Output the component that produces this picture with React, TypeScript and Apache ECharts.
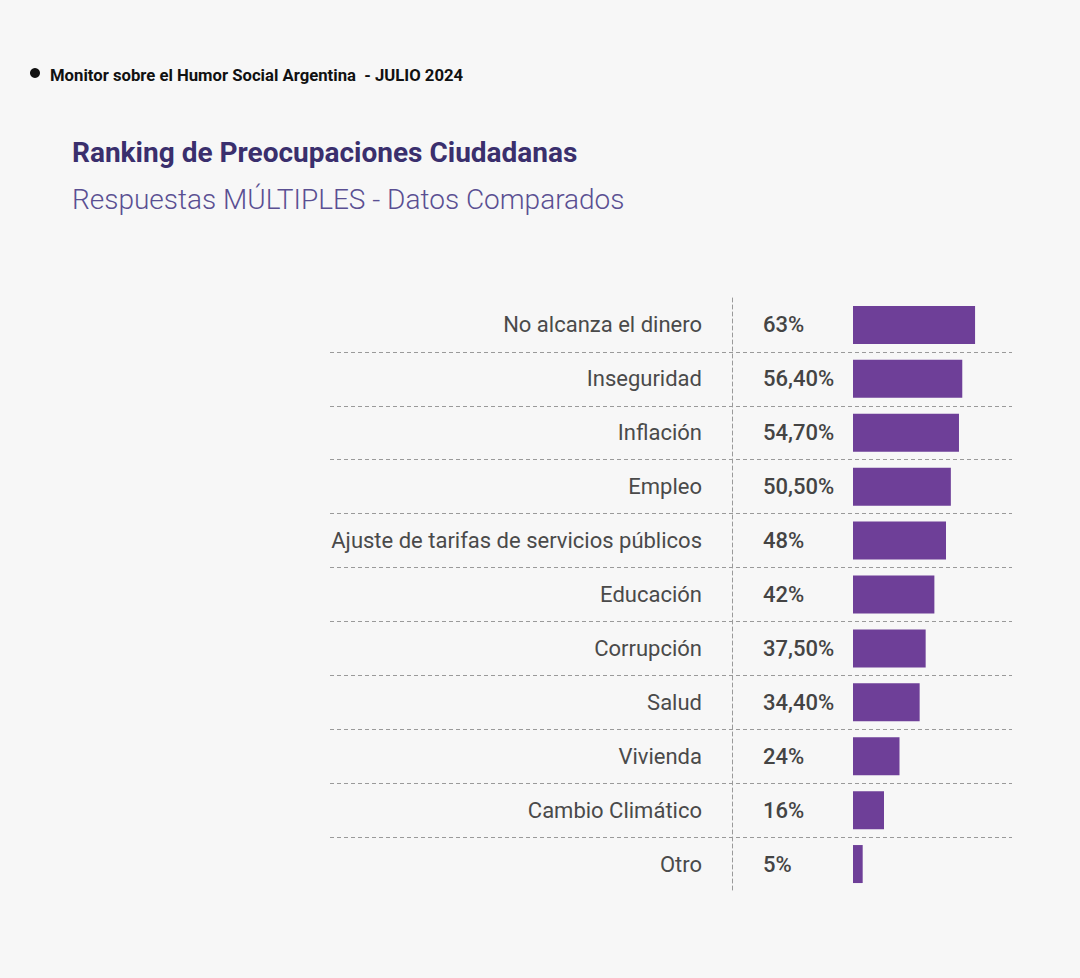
import React, { useEffect, useRef } from "react";
import * as echarts from "echarts";

const headerText = "Monitor sobre el Humor Social Argentina  - JULIO 2024";
const titleText = "Ranking de Preocupaciones Ciudadanas";
const subtitleText = "Respuestas MÚLTIPLES - Datos Comparados";

const categories = [
  "No alcanza el dinero",
  "Inseguridad",
  "Inflación",
  "Empleo",
  "Ajuste de tarifas de servicios públicos",
  "Educación",
  "Corrupción",
  "Salud",
  "Vivienda",
  "Cambio Climático",
  "Otro",
];
const values = [63, 56.4, 54.7, 50.5, 48, 42, 37.5, 34.4, 24, 16, 5];
const valueLabels = ["63%", "56,40%", "54,70%", "50,50%", "48%", "42%", "37,50%", "34,40%", "24%", "16%", "5%"];

const FONT = "Roboto, 'Noto Sans', sans-serif";

export default function App() {
  const ref = useRef<HTMLDivElement>(null);
  useEffect(() => {
    if (!ref.current) return;
    const chart = echarts.init(ref.current, undefined, { renderer: "svg" });
    const option: any = {
      animation: false,
      backgroundColor: "#f7f7f7",
      textStyle: { fontFamily: FONT },
      title: [
        {
          text: headerText,
          left: 45,
          top: 62,
          textStyle: { fontSize: 16.7, fontWeight: "bold", color: "#111", fontFamily: FONT },
        },
        {
          text: titleText,
          left: 67,
          top: 133,
          textStyle: { fontSize: 28, fontWeight: "bold", color: "#3a2f6d", fontFamily: FONT },
        },
        {
          text: subtitleText,
          left: 67,
          top: 180,
          textStyle: { fontSize: 28, fontWeight: 300, color: "#5a4f92", fontFamily: FONT },
        },
      ],
      graphic: [
        { type: "circle", shape: { cx: 35, cy: 73, r: 5 }, style: { fill: "#111" } },
      ],
      grid: [
        { left: 330, right: 68, top: 298, height: 593, containLabel: false },
        { left: 853, width: 155, top: 298, height: 593, containLabel: false },
      ],
      xAxis: [
        { type: "value", gridIndex: 0, min: 0, max: 1, show: false },
        { type: "value", gridIndex: 1, min: 0, max: 80, show: false },
      ],
      yAxis: [
        {
          type: "category",
          gridIndex: 0,
          data: categories,
          inverse: true,
          offset: -402,
          axisLine: { show: true, lineStyle: { color: "#9a9a9a", type: [4, 3], width: 1 } },
          axisTick: { show: false },
          axisLabel: { margin: 30, fontSize: 22, color: "#4a4a4a", fontFamily: FONT },
          splitLine: {
            show: true,
            showMinLine: false,
            showMaxLine: false,
            lineStyle: { color: "#9a9a9a", type: [4, 3], width: 1 },
          },
        },
        {
          type: "category",
          gridIndex: 1,
          data: categories,
          inverse: true,
          show: false,
        },
      ],
      series: [
        {
          type: "bar",
          xAxisIndex: 1,
          yAxisIndex: 1,
          data: values,
          barWidth: 38,
          itemStyle: { color: "#6e3f98" },
          label: {
            show: true,
            position: "insideLeft",
            offset: [-95, 0],
            formatter: (p: any) => valueLabels[p.dataIndex],
            fontSize: 22,
            fontWeight: 500,
            color: "#444",
            fontFamily: FONT,
          },
        },
      ],
    };
    chart.setOption(option);
    return () => chart.dispose();
  }, []);
  return (
    <div
      ref={ref}
      style={{ position: "fixed", left: 0, top: 0, width: 1080, height: 978 }}
    />
  );
}
